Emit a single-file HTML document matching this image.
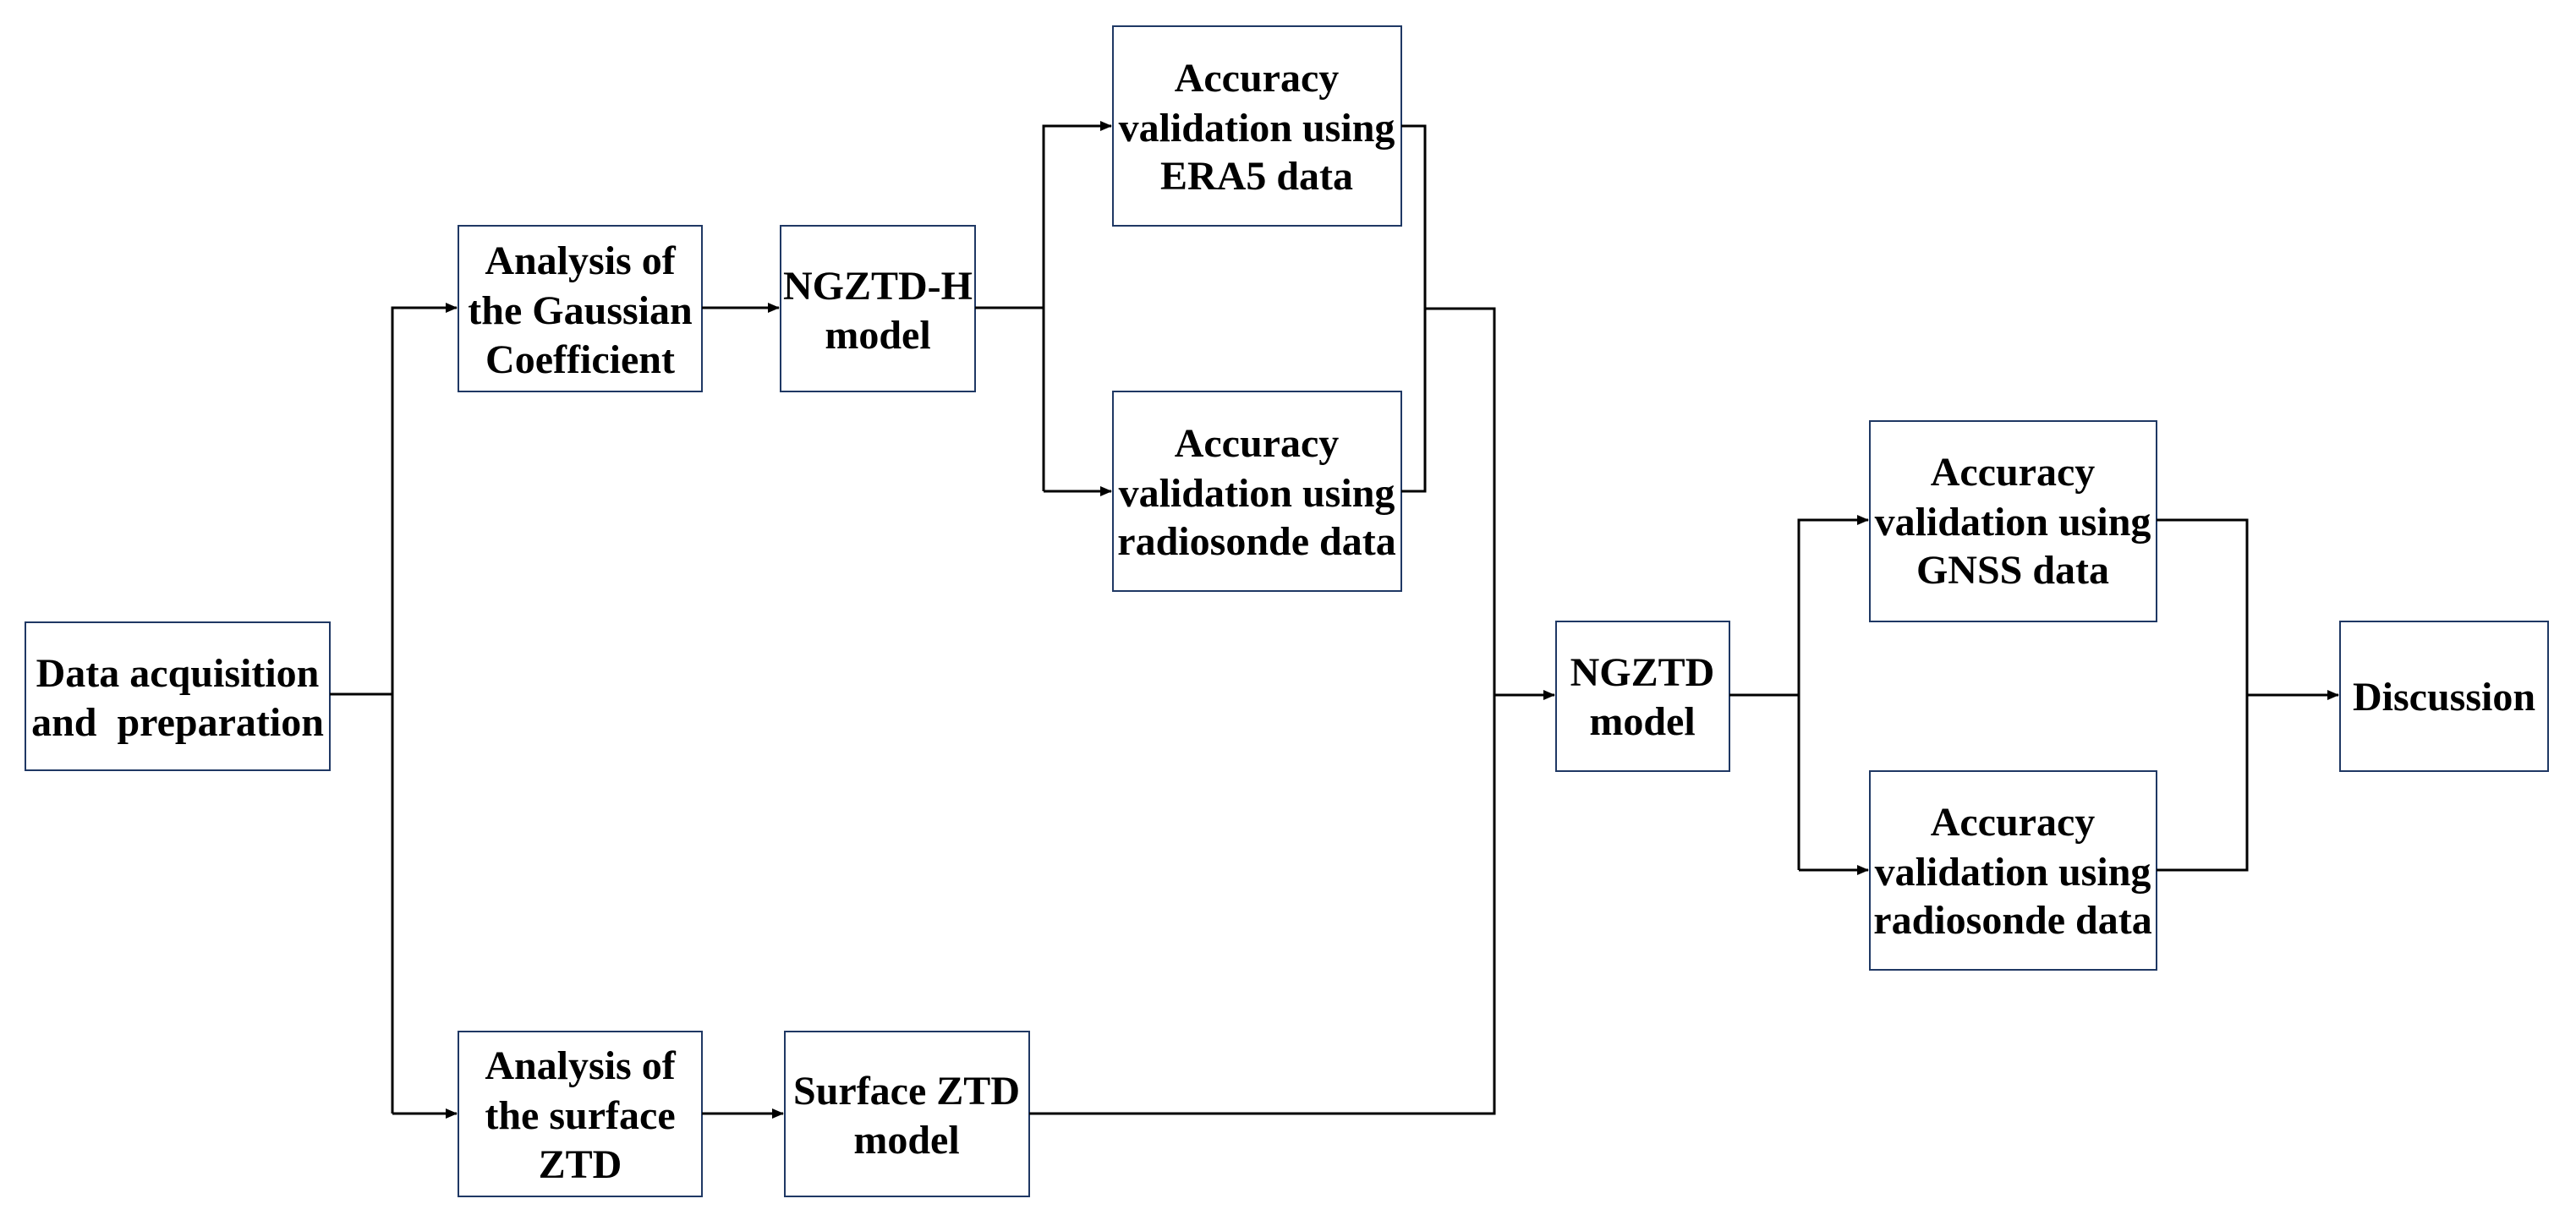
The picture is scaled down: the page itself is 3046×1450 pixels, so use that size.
<!DOCTYPE html>
<html><head><meta charset="utf-8"><style>
html,body{margin:0;padding:0;background:#fff;}
svg{display:block;}
text{font-family:"Liberation Serif",serif;font-weight:bold;font-size:48px;fill:#000;text-anchor:middle;}
</style></head><body>
<svg width="3046" height="1450" viewBox="0 0 3046 1450" xmlns="http://www.w3.org/2000/svg">
<defs>
<marker id="a" markerWidth="14" markerHeight="14" refX="13" refY="7" orient="auto" markerUnits="userSpaceOnUse">
<path d="M0,1 L14,7 L0,13 Z" fill="#000"/>
</marker>
</defs>
<g fill="#fff" stroke="#1f3864" stroke-width="2">
<rect x="30" y="736" width="360" height="175"/>
<rect x="542" y="267" width="288" height="196"/>
<rect x="923" y="267" width="230" height="196"/>
<rect x="1316" y="31" width="341" height="236"/>
<rect x="1316" y="463" width="341" height="236"/>
<rect x="542" y="1220" width="288" height="195"/>
<rect x="928" y="1220" width="289" height="195"/>
<rect x="1840" y="735" width="205" height="177"/>
<rect x="2211" y="498" width="339" height="237"/>
<rect x="2211" y="912" width="339" height="235"/>
<rect x="2767" y="735" width="246" height="177"/>
</g>
<g fill="none" stroke="#000" stroke-width="3">
<polyline points="390,821 464,821"/>
<polyline points="464,1317 464,364 540,364" marker-end="url(#a)"/>
<polyline points="464,1317 540,1317" marker-end="url(#a)"/>
<polyline points="830,364 921,364" marker-end="url(#a)"/>
<polyline points="830,1317 926,1317" marker-end="url(#a)"/>
<polyline points="1153,364 1234,364"/>
<polyline points="1234,581 1234,149 1314,149" marker-end="url(#a)"/>
<polyline points="1234,581 1314,581" marker-end="url(#a)"/>
<polyline points="1657,149 1685,149 1685,581 1657,581"/>
<polyline points="1685,365 1767,365 1767,1317 1217,1317"/>
<polyline points="1767,822 1838,822" marker-end="url(#a)"/>
<polyline points="2045,822 2127,822"/>
<polyline points="2127,1029 2127,615 2209,615" marker-end="url(#a)"/>
<polyline points="2127,1029 2209,1029" marker-end="url(#a)"/>
<polyline points="2550,615 2657,615 2657,1029 2550,1029"/>
<polyline points="2657,822 2765,822" marker-end="url(#a)"/>
</g>
<text x="210" y="812">Data acquisition</text>
<text x="210" y="870" xml:space="preserve">and  preparation</text>
<text x="686" y="324">Analysis of</text>
<text x="686" y="383">the Gaussian</text>
<text x="686" y="441">Coefficient</text>
<text x="1038" y="354">NGZTD-H</text>
<text x="1038" y="412">model</text>
<text x="1486" y="108">Accuracy</text>
<text x="1486" y="167">validation using</text>
<text x="1486" y="224">ERA5 data</text>
<text x="1486" y="540">Accuracy</text>
<text x="1486" y="599">validation using</text>
<text x="1486" y="656">radiosonde data</text>
<text x="686" y="1276">Analysis of</text>
<text x="686" y="1335">the surface</text>
<text x="686" y="1393">ZTD</text>
<text x="1072" y="1306">Surface ZTD</text>
<text x="1072" y="1364">model</text>
<text x="1942" y="811">NGZTD</text>
<text x="1942" y="869">model</text>
<text x="2380" y="574">Accuracy</text>
<text x="2380" y="633">validation using</text>
<text x="2380" y="690">GNSS data</text>
<text x="2380" y="988">Accuracy</text>
<text x="2380" y="1047">validation using</text>
<text x="2380" y="1104">radiosonde data</text>
<text x="2890" y="840">Discussion</text>
</svg>
</body></html>
